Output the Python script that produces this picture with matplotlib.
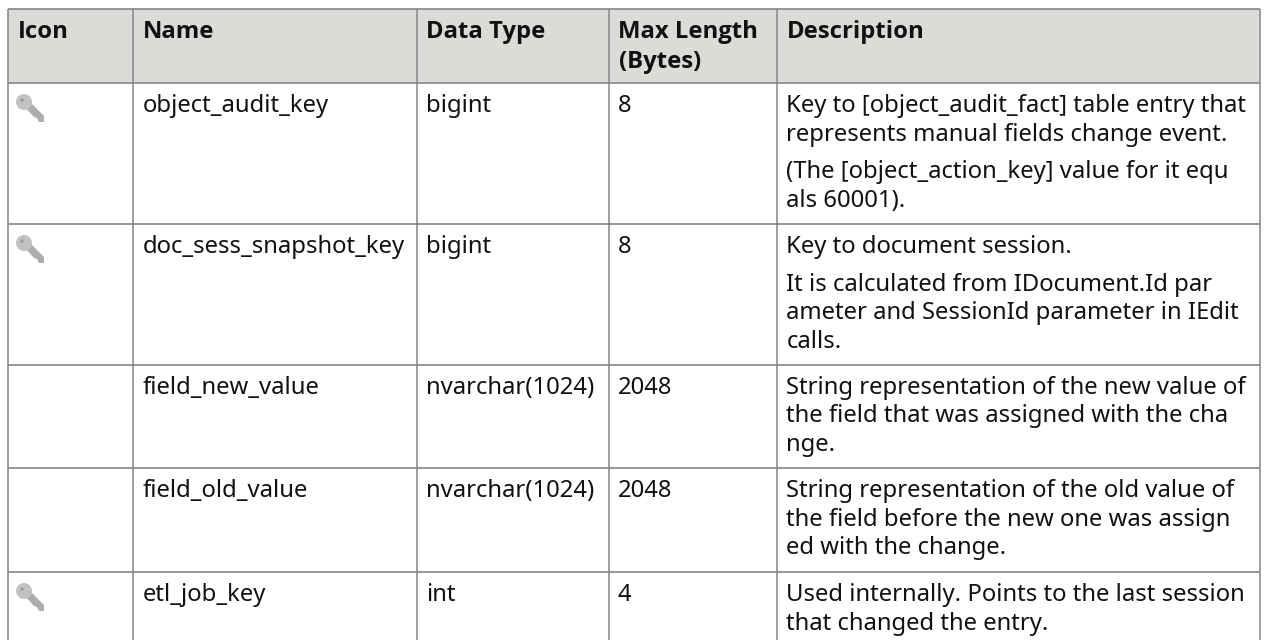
import matplotlib
matplotlib.use('Agg')
from matplotlib import pyplot as plt
from matplotlib.patches import Rectangle, Circle, Polygon

plt.rcParams['font.family'] = ['Noto Sans', 'DejaVu Sans']

W, H = 1267, 640

headers = ['Icon', 'Name', 'Data Type', 'Max Length\n(Bytes)', 'Description']
names = ['object_audit_key', 'doc_sess_snapshot_key', 'field_new_value', 'field_old_value', 'etl_job_key']
types = ['bigint', 'bigint', 'nvarchar(1024)', 'nvarchar(1024)', 'int']
lengths = ['8', '8', '2048', '2048', '4']
has_key = [True, True, False, False, True]
descriptions = [
    [['Key to [object_audit_fact] table entry that', 'represents manual fields change event.'],
     ['(The [object_action_key] value for it equ', 'als 60001).']],
    [['Key to document session.'],
     ['It is calculated from IDocument.Id par', 'ameter and SessionId parameter in IEdit', 'calls.']],
    [['String representation of the new value of', 'the field that was assigned with the cha', 'nge.']],
    [['String representation of the old value of', 'the field before the new one was assign', 'ed with the change.']],
    [['Used internally. Points to the last session', 'that changed the entry.']],
]

col_x = [8, 133, 416.5, 609, 777, 1260]
row_y = [9, 83, 224, 364.5, 468, 572]
line_color = '#85858a'
text_color = '#111111'
fs = 17.2
line_px = 28.5
para_px = 37.5


def draw_key(ax, x, y):
    ax.add_patch(Polygon([(x+7, y+11), (x+12, y+6), (x+28, y+22), (x+28, y+28), (x+23, y+28), (x+21, y+24), (x+18, y+23)],
                         color='#adadab', lw=0))
    ax.add_patch(Circle((x+8, y+8), 8, color='#c2c3c1', lw=0))
    ax.add_patch(Circle((x+6, y+6), 1.8, color='#9c9c9c', lw=0))


fig = plt.figure(figsize=(W/100, H/100), dpi=100)
ax = fig.add_axes([0, 0, 1, 1])
ax.set_xlim(0, W)
ax.set_ylim(H, 0)
ax.axis('off')

ax.add_patch(Rectangle((col_x[0], row_y[0]), col_x[-1]-col_x[0], row_y[1]-row_y[0], color='#dbdcd8', lw=0))

for x in col_x:
    ax.plot([x, x], [row_y[0], H], color=line_color, lw=1.1, solid_capstyle='butt')
for y in row_y:
    ax.plot([col_x[0], col_x[-1]], [y, y], color=line_color, lw=1.2, solid_capstyle='butt')

for x, h in zip(col_x, headers):
    for k, part in enumerate(h.split('\n')):
        ax.text(x+9.5, 38 + k*29.5, part, fontsize=fs, fontweight='bold', family=['Open Sans', 'DejaVu Sans'],
                color=text_color, va='baseline')

for i in range(len(names)):
    base = row_y[i+1] + 29.3
    ax.text(col_x[1]+10, base, names[i], fontsize=fs, color=text_color, va='baseline')
    ax.text(col_x[2]+9.5, base, types[i], fontsize=fs, color=text_color, va='baseline')
    ax.text(col_x[3]+9, base, lengths[i], fontsize=fs, color=text_color, va='baseline')
    if has_key[i]:
        draw_key(ax, 16, row_y[i+1]+11)
    y = base
    for para in descriptions[i]:
        for k, part in enumerate(para):
            ax.text(col_x[4]+9.5, y + k*line_px, part, fontsize=fs, color=text_color, va='baseline')
        y += (len(para)-1)*line_px + para_px

fig.savefig('out.png', dpi=100)
